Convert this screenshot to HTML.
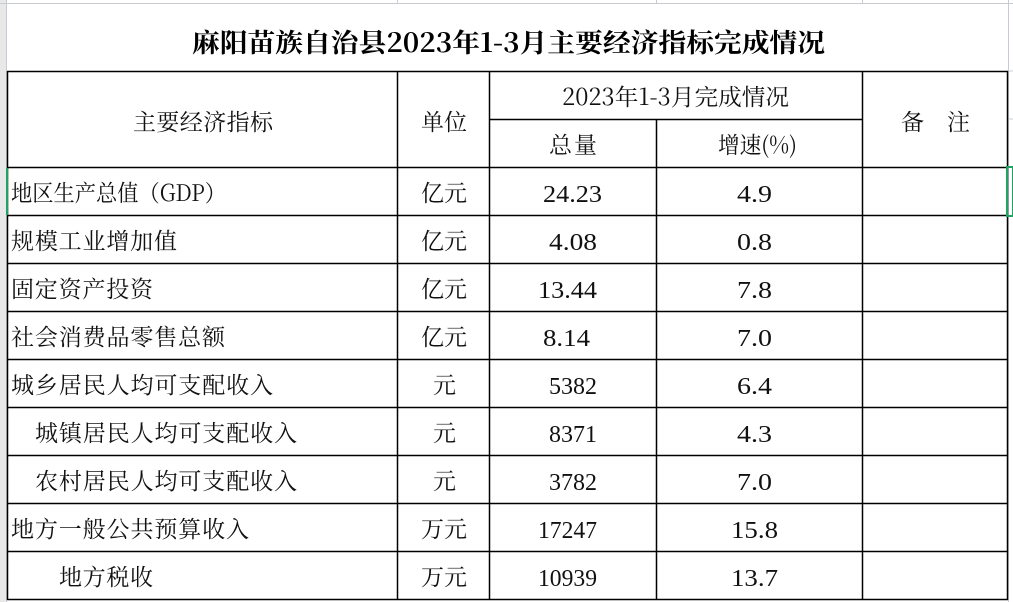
<!DOCTYPE html>
<html><head><meta charset="utf-8"><style>
html,body{margin:0;padding:0;background:#fff;width:1013px;height:602px;overflow:hidden}
svg{display:block}
.c{font-family:"Noto Serif CJK SC","Liberation Serif",serif;font-size:23px;fill:#111}
.n{font-family:"Liberation Serif","Noto Serif CJK SC",serif;font-size:24px;fill:#111}
</style></head><body>
<svg width="1013" height="602" xmlns="http://www.w3.org/2000/svg">
<rect x="0" y="0" width="6" height="602" fill="#e8e8e8"/>
<g stroke="#c8ccd0" stroke-width="1">
<line x1="0" y1="3.5" x2="1013" y2="3.5"/>
<line x1="397.5" y1="0" x2="397.5" y2="3"/><line x1="656.5" y1="0" x2="656.5" y2="3"/><line x1="862.5" y1="0" x2="862.5" y2="3"/>
<line x1="6.5" y1="0" x2="6.5" y2="602"/>
<line x1="1007" y1="71" x2="1013" y2="71"/><line x1="1007" y1="119" x2="1013" y2="119"/>
<line x1="1008.5" y1="0" x2="1008.5" y2="602"/>
</g>
<g stroke="#000" stroke-width="1.5" fill="none">
<line x1="7" y1="71.5" x2="1008" y2="71.5"/>
<line x1="489" y1="119.5" x2="862" y2="119.5"/>
<line x1="7" y1="167.5" x2="1008" y2="167.5"/>
<line x1="7" y1="215.5" x2="1008" y2="215.5"/>
<line x1="7" y1="263.5" x2="1008" y2="263.5"/>
<line x1="7" y1="311.5" x2="1008" y2="311.5"/>
<line x1="7" y1="359.5" x2="1008" y2="359.5"/>
<line x1="7" y1="407.5" x2="1008" y2="407.5"/>
<line x1="7" y1="455.5" x2="1008" y2="455.5"/>
<line x1="7" y1="503.5" x2="1008" y2="503.5"/>
<line x1="7" y1="551.5" x2="1008" y2="551.5"/>
<line x1="7" y1="599.5" x2="1008" y2="599.5"/>
<line x1="7.5" y1="71" x2="7.5" y2="600"/>
<line x1="397.5" y1="71" x2="397.5" y2="600"/>
<line x1="489.5" y1="71" x2="489.5" y2="600"/>
<line x1="656.5" y1="119" x2="656.5" y2="600"/>
<line x1="862.5" y1="71" x2="862.5" y2="600"/>
<line x1="1007.5" y1="71" x2="1007.5" y2="600"/>
</g>
<rect x="1007" y="167" width="6" height="49" fill="none" stroke="#1fa463" stroke-width="2"/>
<rect x="6" y="168" width="2" height="47" fill="#1fa463"/>
<text x="192" y="52" textLength="633" lengthAdjust="spacingAndGlyphs" style="font-family:'Noto Serif CJK SC','Liberation Serif',serif;font-size:26px;font-weight:bold;fill:#000">麻阳苗族自治县2023年1-3月主要经济指标完成情况</text>
<text class="c" x="133" y="130" textLength="140">主要经济指标</text>
<text class="c" x="421" y="130" textLength="46">单位</text>
<text class="c" x="562" y="105" textLength="227" lengthAdjust="spacingAndGlyphs">2023年1-3月完成情况</text>
<text class="c" x="549" y="153" textLength="48">总量</text>
<text class="c" x="718" y="153" textLength="79" lengthAdjust="spacingAndGlyphs">增速(%)</text>
<text class="c" x="901" y="130">备</text>
<text class="c" x="947" y="130">注</text>
<g class="c">
<text x="11" y="201" textLength="215" lengthAdjust="spacingAndGlyphs">地区生产总值（GDP）</text>
<text x="11" y="249" textLength="166">规模工业增加值</text>
<text x="11" y="297" textLength="142">固定资产投资</text>
<text x="11" y="345" textLength="214">社会消费品零售总额</text>
<text x="11" y="393" textLength="262">城乡居民人均可支配收入</text>
<text x="35" y="441" textLength="262">城镇居民人均可支配收入</text>
<text x="35" y="489" textLength="262">农村居民人均可支配收入</text>
<text x="11" y="537" textLength="238">地方一般公共预算收入</text>
<text x="59" y="585" textLength="94">地方税收</text>
</g>
<g class="c">
<text x="421" y="201" textLength="46">亿元</text><text x="421" y="249" textLength="46">亿元</text><text x="421" y="297" textLength="46">亿元</text><text x="421" y="345" textLength="46">亿元</text>
<text x="433" y="393">元</text><text x="433" y="441">元</text><text x="433" y="489">元</text>
<text x="421" y="537" textLength="46">万元</text><text x="421" y="585" textLength="46">万元</text>
</g>
<g class="n">
<text x="543" y="202" textLength="59" lengthAdjust="spacingAndGlyphs">24.23</text>
<text x="549" y="250" textLength="48" lengthAdjust="spacingAndGlyphs">4.08</text>
<text x="538" y="298" textLength="59" lengthAdjust="spacingAndGlyphs">13.44</text>
<text x="543" y="346" textLength="47" lengthAdjust="spacingAndGlyphs">8.14</text>
<text x="549" y="394" textLength="48" lengthAdjust="spacingAndGlyphs">5382</text>
<text x="549" y="442" textLength="48" lengthAdjust="spacingAndGlyphs">8371</text>
<text x="549" y="490" textLength="48" lengthAdjust="spacingAndGlyphs">3782</text>
<text x="538" y="538" textLength="59" lengthAdjust="spacingAndGlyphs">17247</text>
<text x="538" y="586" textLength="59" lengthAdjust="spacingAndGlyphs">10939</text>
<text x="737" y="202" textLength="35" lengthAdjust="spacingAndGlyphs">4.9</text>
<text x="737" y="250" textLength="35" lengthAdjust="spacingAndGlyphs">0.8</text>
<text x="737" y="298" textLength="35" lengthAdjust="spacingAndGlyphs">7.8</text>
<text x="737" y="346" textLength="35" lengthAdjust="spacingAndGlyphs">7.0</text>
<text x="737" y="394" textLength="35" lengthAdjust="spacingAndGlyphs">6.4</text>
<text x="737" y="442" textLength="35" lengthAdjust="spacingAndGlyphs">4.3</text>
<text x="737" y="490" textLength="35" lengthAdjust="spacingAndGlyphs">7.0</text>
<text x="731" y="538" textLength="47" lengthAdjust="spacingAndGlyphs">15.8</text>
<text x="731" y="586" textLength="47" lengthAdjust="spacingAndGlyphs">13.7</text>
</g>
</svg>
</body></html>
